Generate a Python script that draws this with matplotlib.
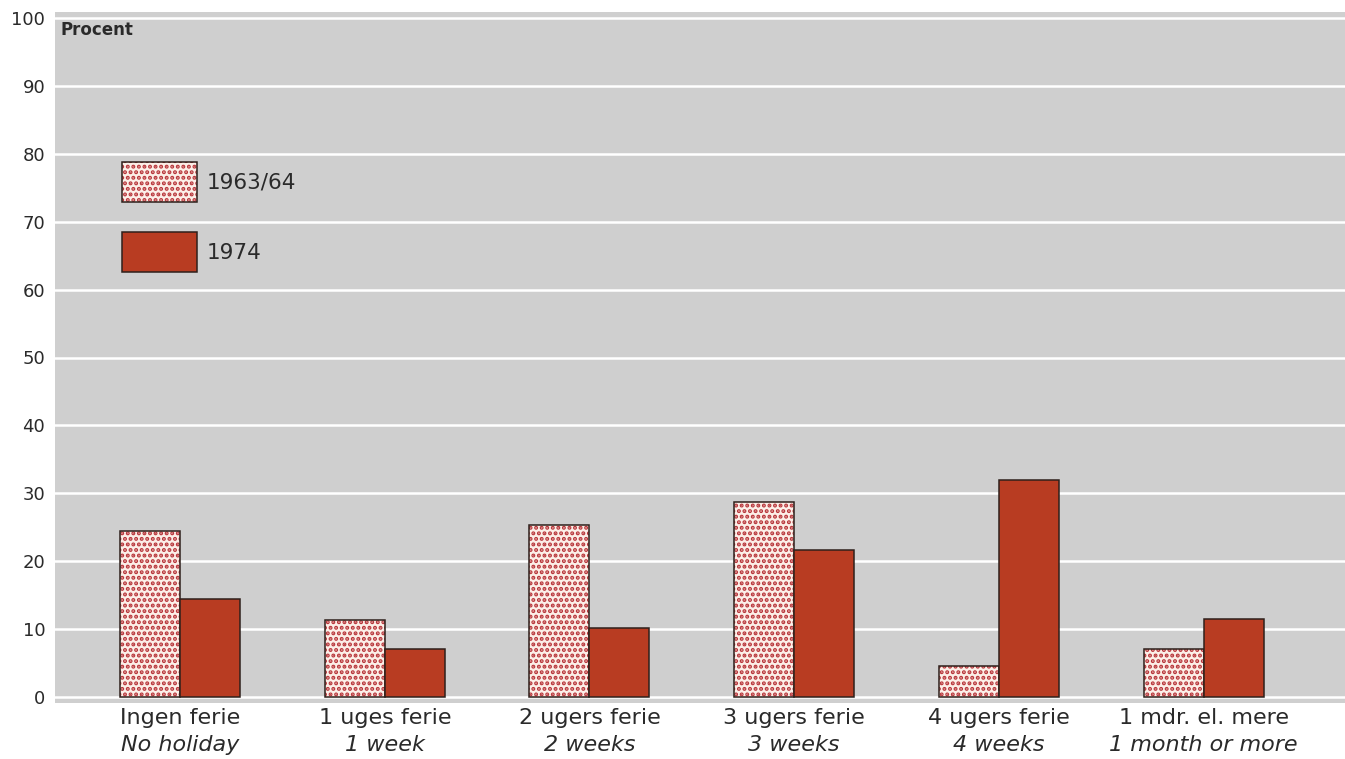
import numpy as np
import matplotlib
matplotlib.use("Agg")
from matplotlib import pyplot as plt
from matplotlib.patches import Patch

# holiday length categories (Danish / English)
labels_dk = ["Ingen ferie", "1 uges ferie", "2 ugers ferie", "3 ugers ferie",
             "4 ugers ferie", "1 mdr. el. mere"]
labels_en = ["No holiday", "1 week", "2 weeks", "3 weeks", "4 weeks",
             "1 month or more"]
years = ["1963/64", "1974"]
pct_1963 = [24.5, 11.3, 25.3, 28.7, 4.6, 7.1]
pct_1974 = [14.4, 7.1, 10.1, 21.6, 31.9, 11.5]
yticks = list(range(0, 101, 10))

plt.rcParams['font.family'] = ['DejaVu Sans']
plt.rcParams['hatch.linewidth'] = 2.0

red = '#b83c22'
dotred = '#b8353a'
pale = '#fcefe8'
edge = '#2e201b'
bg = '#cfcfcf'
txt = '#2a2a2a'
hatch = '...'

fig = plt.figure(figsize=(13.45, 7.59), dpi=100)
ax = fig.add_axes([55 / 1345, 56 / 759, 1290 / 1345, 691 / 759])
ax.set_facecolor(bg)

x = np.arange(len(labels_dk))
w = 0.293

# hatched bars: dots drawn in red, outline drawn on top in dark
ax.bar(x - w / 2, pct_1963, w, color=pale, edgecolor=dotred, hatch=hatch,
       linewidth=0, zorder=3)
ax.bar(x - w / 2, pct_1963, w, fill=False, edgecolor=edge, linewidth=1.1, zorder=4)
ax.bar(x + w / 2, pct_1974, w, color=red, edgecolor=edge, linewidth=1.1, zorder=4)

ax.set_xlim(-0.611, 5.691)
ax.set_ylim(-0.9, 100.9)
ax.set_yticks(yticks)
ax.set_yticklabels([str(t) for t in yticks], fontsize=13, color=txt)
ax.set_xticks([])
ax.tick_params(axis='y', length=0, pad=7)
ax.grid(axis='y', color='white', linewidth=1.8, zorder=1)
ax.set_axisbelow(True)
for s in ax.spines.values():
    s.set_visible(False)

for i in range(len(labels_dk)):
    ax.annotate(labels_dk[i], (x[i], 0), xycoords=('data', 'axes fraction'),
                xytext=(0, -11), textcoords='offset points', ha='center',
                va='center', fontsize=16, color=txt)
    ax.annotate(labels_en[i], (x[i], 0), xycoords=('data', 'axes fraction'),
                xytext=(0, -30), textcoords='offset points', ha='center',
                va='center', fontsize=16, style='italic', color=txt)

fig.text(60 / 1345, 1 - 30 / 759, 'Procent', fontsize=12, fontweight='bold',
         color=txt, va='center', ha='left')

# legend, hatched handle = dots + dark outline stacked
h_dots = Patch(facecolor=pale, edgecolor=dotred, hatch=hatch, linewidth=0)
h_line = Patch(fill=False, edgecolor=edge, linewidth=1.1)
h_solid = Patch(facecolor=red, edgecolor=edge, linewidth=1.1)
leg = ax.legend([(h_dots, h_line), h_solid], years, loc='upper left',
                bbox_to_anchor=(122 / 1345, 1 - 162 / 759),
                bbox_transform=fig.transFigure, frameon=False, fontsize=15.5,
                handlelength=3.48, handleheight=2.5, labelspacing=1.39,
                handletextpad=0.45, borderpad=0, borderaxespad=0)
for t in leg.get_texts():
    t.set_color(txt)

fig.savefig('out.png', dpi=100)
